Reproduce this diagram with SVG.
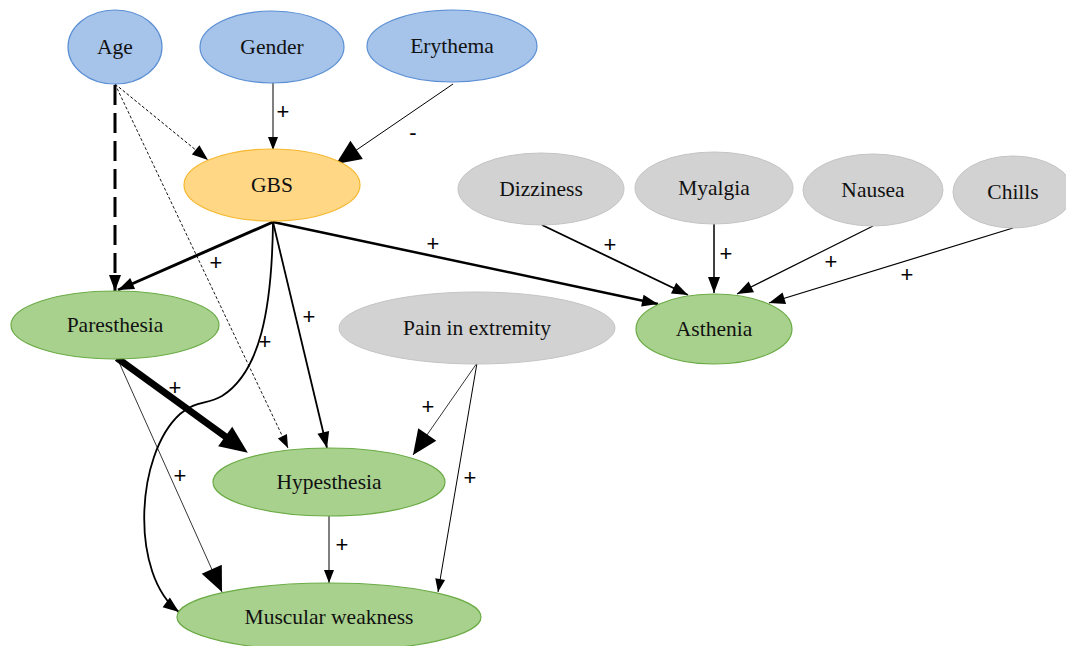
<svg xmlns="http://www.w3.org/2000/svg" width="1066" height="646" viewBox="0 0 1066 646">
<style>
.blue{fill:#a6c3e9;stroke:#5b8fd4;stroke-width:1.2}
.gbs{fill:#ffd785;stroke:#f5b830;stroke-width:1.2}
.gray{fill:#d2d2d2;stroke:#c4c4c4;stroke-width:1}
.green{fill:#a9d18e;stroke:#6aab45;stroke-width:1.2}
.t{font-family:"Liberation Serif","Times New Roman",serif;font-size:21.5px;fill:#111;text-anchor:middle}
.lbl{font-family:"Liberation Sans",Arial,sans-serif;font-size:22px;fill:#000;text-anchor:middle;dominant-baseline:central}
.e{fill:none;stroke:#000}
</style>
<defs>
<marker id="s" markerUnits="userSpaceOnUse" markerWidth="13" markerHeight="10" refX="13" refY="5" orient="auto" overflow="visible"><path d="M0,0 L13,5 L0,10 z" fill="#000"/></marker>
<marker id="m" markerUnits="userSpaceOnUse" markerWidth="16" markerHeight="12" refX="16" refY="6" orient="auto" overflow="visible"><path d="M0,0 L16,6 L0,12 z" fill="#000"/></marker>
<marker id="L" markerUnits="userSpaceOnUse" markerWidth="25" markerHeight="22" refX="25" refY="11" orient="auto" overflow="visible"><path d="M0,0 L25,11 L0,22 z" fill="#000"/></marker>
<marker id="XL" markerUnits="userSpaceOnUse" markerWidth="28" markerHeight="24" refX="1" refY="12" orient="auto" overflow="visible"><path d="M0,0 L28,12 L0,24 z" fill="#000"/></marker>
</defs>

<g id="connectors">
<path class="e" d="M115,84 L208,160" stroke-width="1" stroke-dasharray="3,2" marker-end="url(#m)"/>
<path class="e" d="M115,85 L115,291" stroke-width="3" stroke-dasharray="20,8" marker-end="url(#m)"/>
<path class="e" d="M115,84 L288,448" stroke-width="0.9" stroke-dasharray="3,2" marker-end="url(#s)"/>
<path class="e" d="M273,83 L273,150" stroke-width="1" marker-end="url(#s)"/>
<path class="e" d="M453,84 L336,164" stroke-width="1" marker-end="url(#L)"/>
<path class="e" d="M273,222 L118,290" stroke-width="3" marker-end="url(#m)"/>
<path class="e" d="M273,222 L658,304" stroke-width="2.5" marker-end="url(#m)"/>
<path class="e" d="M273,222 L327,448" stroke-width="1.8" marker-end="url(#m)"/>
<path class="e" d="M273,222 C272,310 260,372 222,396 C207,405 196,400 180,414 C135,455 130,575 179,612" stroke-width="1.8" marker-end="url(#m)"/>
<path class="e" d="M117,358 L226,437" stroke-width="7" marker-end="url(#XL)"/>
<path class="e" d="M118,360 L222,592" stroke-width="0.8" marker-end="url(#L)"/>
<path class="e" d="M477,363 L413,455" stroke-width="0.8" marker-end="url(#L)"/>
<path class="e" d="M477,363 L438,592" stroke-width="1" marker-end="url(#s)"/>
<path class="e" d="M329,516 L329,583" stroke-width="1" marker-end="url(#s)"/>
<path class="e" d="M542,225 L688,295" stroke-width="1.8" marker-end="url(#m)"/>
<path class="e" d="M714,224 L714,293" stroke-width="1.5" marker-end="url(#m)"/>
<path class="e" d="M873,226 L737,294" stroke-width="1.2" marker-end="url(#m)"/>
<path class="e" d="M1013,228 L769,303" stroke-width="1.2" marker-end="url(#m)"/>
<text class="lbl" x="283" y="111">+</text>
<text class="lbl" x="413" y="132">-</text>
<text class="lbl" x="216" y="262">+</text>
<text class="lbl" x="433" y="243">+</text>
<text class="lbl" x="309" y="316">+</text>
<text class="lbl" x="265" y="341">+</text>
<text class="lbl" x="175" y="387">+</text>
<text class="lbl" x="180" y="475">+</text>
<text class="lbl" x="428" y="406">+</text>
<text class="lbl" x="470" y="477">+</text>
<text class="lbl" x="342" y="544">+</text>
<text class="lbl" x="610" y="244">+</text>
<text class="lbl" x="726" y="253">+</text>
<text class="lbl" x="831" y="261">+</text>
<text class="lbl" x="907" y="274">+</text>
</g>

<g id="age"><ellipse class="blue" cx="115" cy="47" rx="47" ry="37"/><text class="t" x="115" y="54">Age</text></g>
<g id="gender"><ellipse class="blue" cx="272" cy="47" rx="72" ry="36"/><text class="t" x="272" y="54">Gender</text></g>
<g id="erythema"><ellipse class="blue" cx="452" cy="46" rx="85" ry="36"/><text class="t" x="452" y="53">Erythema</text></g>
<g id="gbs"><ellipse class="gbs" cx="272" cy="185" rx="88" ry="36"/><text class="t" x="272" y="192">GBS</text></g>
<g id="dizziness"><ellipse class="gray" cx="541" cy="189" rx="83" ry="36"/><text class="t" x="541" y="196">Dizziness</text></g>
<g id="myalgia"><ellipse class="gray" cx="714" cy="188" rx="79" ry="36"/><text class="t" x="714" y="195">Myalgia</text></g>
<g id="nausea"><ellipse class="gray" cx="873" cy="190" rx="70" ry="36"/><text class="t" x="873" y="197">Nausea</text></g>
<g id="chills"><ellipse class="gray" cx="1013" cy="192" rx="60" ry="36"/><text class="t" x="1013" y="199">Chills</text></g>
<g id="asthenia"><ellipse class="green" cx="714" cy="329" rx="78" ry="35"/><text class="t" x="714" y="336">Asthenia</text></g>
<g id="paresthesia"><ellipse class="green" cx="115" cy="325" rx="104" ry="34"/><text class="t" x="115" y="332">Paresthesia</text></g>
<g id="pain"><ellipse class="gray" cx="477" cy="328" rx="138" ry="36"/><text class="t" x="477" y="335">Pain in extremity</text></g>
<g id="hypesthesia"><ellipse class="green" cx="329" cy="482" rx="116" ry="34"/><text class="t" x="329" y="489">Hypesthesia</text></g>
<g id="muscular"><ellipse class="green" cx="329" cy="617" rx="152" ry="34"/><text class="t" x="329" y="624">Muscular weakness</text></g>
</svg>
